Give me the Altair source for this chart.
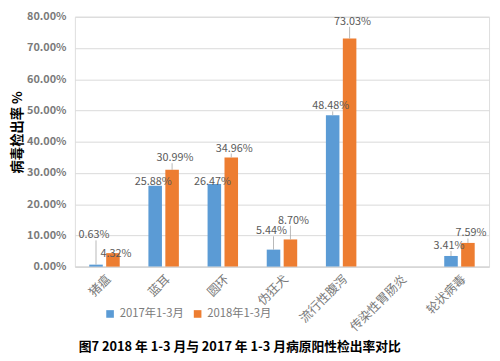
import altair as alt
import pandas as pd

categories = ["猪瘟", "蓝耳", "圆环", "伪狂犬", "流行性腹泻", "传染性胃肠炎", "轮状病毒"]
years = ["2017年1-3月", "2018年1-3月"]
v2017 = [0.63, 25.88, 26.47, 5.44, 48.48, None, 3.41]
v2018 = [4.32, 30.99, 34.96, 8.70, 73.03, None, 7.59]
# where the data labels sit (value-axis units)
label_y2017 = [10.0, 27.2, 27.2, 11.3, 51.3, None, 6.6]
label_y2018 = [4.1, 34.7, 37.8, 14.7, 78.4, None, 10.6]
y_ticks = [0, 10, 20, 30, 40, 50, 60, 70, 80]

rows = []
for yr, vals, lys in [(years[0], v2017, label_y2017), (years[1], v2018, label_y2018)]:
    for c, v, ly in zip(categories, vals, lys):
        rows.append({"cat": c, "year": yr, "value": v, "label_y": ly,
                     "text": (f"{v:.2f}%" if v is not None else None)})
df = pd.DataFrame(rows)
df["line_top"] = df["label_y"] - 1.6
df["has_line"] = (df["line_top"] > df["value"] + 0.5)

FONT = "Noto Sans CJK SC"
GREY = "#595959"
AXGREY = "#7a7a7a"

x_axis = alt.Axis(labelAngle=-45, labelFontSize=12.5, labelColor=AXGREY,
                  labelFont=FONT, ticks=False, domainColor="#d0d0d0",
                  labelPadding=6, labelAlign="right", labelBaseline="top")
x_scale = alt.Scale(paddingInner=0.485, paddingOuter=0.2425)
xo_enc = alt.XOffset("year:N", sort=years, scale=alt.Scale(paddingInner=0.2))

y_scale = alt.Scale(domain=[0, 80], nice=False)
y_axis = alt.Axis(values=y_ticks, labelOverlap=False,
                  labelExpr="format(datum.value, '.2f') + '%'",
                  labelFontSize=11, labelColor=AXGREY, labelFont=FONT,
                  labelFontWeight="bold", labelPadding=9,
                  ticks=False, domain=False, gridColor="#d9d9d9",
                  titleFont=FONT, titleFontSize=13.5, titleFontWeight="bold",
                  titleColor="#000000", titleX=-58, titleY=117,
                  titleAlign="center", titleBaseline="middle")
Y_TITLE = "病毒检出率 %"

def xe():
    return alt.X("cat:N", sort=categories, title=None, scale=x_scale, axis=x_axis)

def ye(field):
    return alt.Y(field, scale=y_scale, title=Y_TITLE, axis=y_axis)

bars = alt.Chart(df).mark_bar().encode(
    x=xe(), xOffset=xo_enc, y=ye("value:Q"),
    color=alt.Color("year:N", sort=years,
                    scale=alt.Scale(domain=years, range=["#5B9BD5", "#ED7D31"]),
                    legend=alt.Legend(title=None, orient="none", direction="horizontal",
                                      legendX=30, legendY=296, symbolType="square",
                                      symbolSize=60, symbolStrokeWidth=0,
                                      labelFontSize=11.5, labelColor=AXGREY, labelFont=FONT,
                                      columnPadding=8, padding=0))
)

lines = alt.Chart(df).transform_filter("datum.has_line").mark_rule(
    color="#a6a6a6", strokeWidth=0.8).encode(
    x=xe(), xOffset=xo_enc, y=ye("value:Q"), y2="line_top:Q")

def label_layer(year, dx):
    return alt.Chart(df).transform_filter(
        f"datum.value != null && datum.year == '{year}'").mark_text(
        font=FONT, fontSize=11, color=GREY, baseline="middle", dx=dx).encode(
        x=xe(), xOffset=xo_enc, y=ye("label_y:Q"), text="text:N")

chart = alt.layer(bars, lines, label_layer(years[0], -2), label_layer(years[1], 3)).properties(
    width=421, height=254,
    autosize=alt.AutoSizeParams(type="none"),
    padding={"left": 68, "top": 6, "right": 3, "bottom": 90},
    title=alt.TitleParams("图7 2018 年 1-3 月与 2017 年 1-3 月病原阳性检出率对比",
                          orient="bottom", anchor="start", frame="group", dx=4,
                          offset=8, font=FONT, fontSize=13, fontWeight="bold",
                          color="#000000"),
).configure_view(stroke=None).configure(background="white")

chart.save("out.html", embed_options={"renderer": "svg", "actions": False})
